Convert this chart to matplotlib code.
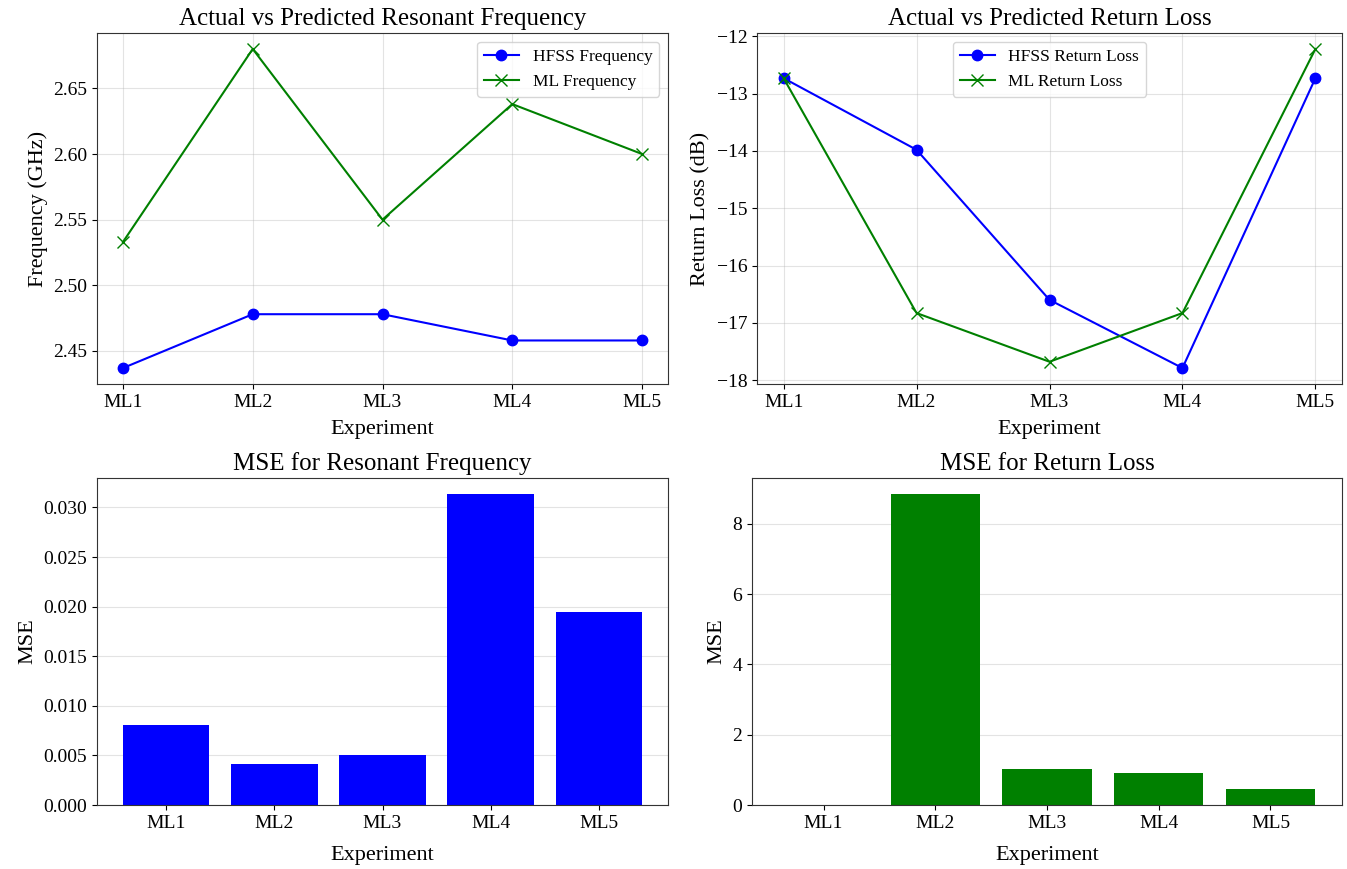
import matplotlib
matplotlib.use('Agg')
import matplotlib.pyplot as plt
import numpy as np

plt.rcParams['font.family'] = ['Liberation Serif', 'DejaVu Serif']

experiments = ['ML1', 'ML2', 'ML3', 'ML4', 'ML5']

hfss_freq = [2.437, 2.478, 2.478, 2.458, 2.458]
ml_freq = [2.533, 2.680, 2.550, 2.638, 2.600]

hfss_rl = [-12.73, -13.98, -16.60, -17.79, -12.73]
ml_rl = [-12.73, -16.83, -17.68, -16.83, -12.22]

mse_freq = [0.0081, 0.0041, 0.0050, 0.0314, 0.0195]
mse_rl = [0.0, 8.86, 1.01, 0.92, 0.45]

W, H = 1347, 869
fig = plt.figure(figsize=(W / 100, H / 100), dpi=100)


def box(x0, y0, x1, y1):
    # pixel box -> figure fraction
    return [x0 / W, 1 - y1 / H, (x1 - x0) / W, (y1 - y0) / H]


ax1 = fig.add_axes(box(97, 33, 668, 384))
ax2 = fig.add_axes(box(757, 33, 1342, 384))
ax3 = fig.add_axes(box(97, 478, 668, 805))
ax4 = fig.add_axes(box(752, 478, 1342, 805))

x = np.arange(len(experiments))

title_fs = 18
label_fs = 16
tick_fs = 14
legend_fs = 12.5

# Resonant frequency
ax1.plot(x, hfss_freq, marker='o', color='blue', markersize=7.5, label='HFSS Frequency')
ax1.plot(x, ml_freq, marker='x', color='green', markersize=8, label='ML Frequency')
ax1.set_title('Actual vs Predicted Resonant Frequency', fontsize=title_fs)
ax1.set_xlabel('Experiment', fontsize=label_fs, labelpad=7)
ax1.set_ylabel('Frequency (GHz)', fontsize=label_fs)
ax1.set_xticks(x)
ax1.set_xticklabels(experiments)
ax1.set_yticks([2.45, 2.50, 2.55, 2.60, 2.65])
ax1.grid(True, alpha=0.35)
ax1.legend(loc='upper right', fontsize=legend_fs)

# Return loss
ax2.plot(x, hfss_rl, marker='o', color='blue', markersize=7.5, label='HFSS Return Loss')
ax2.plot(x, ml_rl, marker='x', color='green', markersize=8, label='ML Return Loss')
ax2.set_title('Actual vs Predicted Return Loss', fontsize=title_fs)
ax2.set_xlabel('Experiment', fontsize=label_fs, labelpad=7)
ax2.set_ylabel('Return Loss (dB)', fontsize=label_fs)
ax2.set_xticks(x)
ax2.set_xticklabels(experiments)
ax2.grid(True, alpha=0.35)
ax2.legend(loc='upper center', fontsize=legend_fs)

# MSE bars
ax3.bar(experiments, mse_freq, color='blue')
ax3.set_title('MSE for Resonant Frequency', fontsize=title_fs)
ax3.set_xlabel('Experiment', fontsize=label_fs, labelpad=10)
ax3.set_ylabel('MSE', fontsize=label_fs)
ax3.set_axisbelow(True)
ax3.grid(True, axis='y', alpha=0.35)

ax4.bar(experiments, mse_rl, color='green')
ax4.set_title('MSE for Return Loss', fontsize=title_fs)
ax4.set_xlabel('Experiment', fontsize=label_fs, labelpad=10)
ax4.set_ylabel('MSE', fontsize=label_fs)
ax4.set_axisbelow(True)
ax4.grid(True, axis='y', alpha=0.35)

for ax in (ax1, ax2, ax3, ax4):
    ax.tick_params(labelsize=tick_fs)
    for s in ax.spines.values():
        s.set_edgecolor('#333333')

fig.savefig('out.png', dpi=100)
